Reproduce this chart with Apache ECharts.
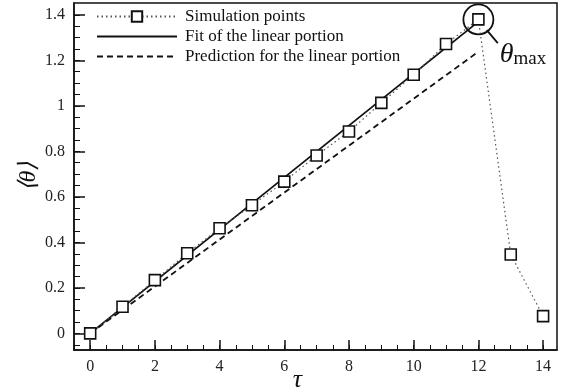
<!DOCTYPE html>
<html>
<head>
<meta charset="utf-8">
<script src="https://cdn.jsdelivr.net/npm/echarts@6/dist/echarts.min.js"></script>
<style>
  html, body { margin: 0; padding: 0; background: #fff; }
  #chart { width: 567px; height: 392px; }
</style>
</head>
<body>
<div id="chart"></div>
<script>
// simulation points
const tau = [0, 1, 2, 3, 4, 5, 6, 7, 8, 9, 10, 11, 12, 13, 14]
const simTheta = [0, 0.117, 0.234, 0.352, 0.462, 0.563, 0.667, 0.782, 0.887, 1.013, 1.137, 1.272, 1.38, 0.347, 0.076]

// linear fit and prediction (end points)
const fitTau = [0, 12]
const fitTheta = [0, 1.37]
const predTau = [0, 12]
const predTheta = [0, 1.238]

// axis ticks
const xMajor = [0, 2, 4, 6, 8, 10, 12, 14]
const xMinor = [-0.5, 0, 0.5, 1, 1.5, 2, 2.5, 3, 3.5, 4, 4.5, 5, 5.5, 6, 6.5, 7, 7.5, 8, 8.5, 9, 9.5, 10, 10.5, 11, 11.5, 12, 12.5, 13, 13.5, 14]
const yMajor = [0, 0.2, 0.4, 0.6, 0.8, 1, 1.2, 1.4]
const yMinor = [-0.05, 0, 0.05, 0.1, 0.15, 0.2, 0.25, 0.3, 0.35, 0.4, 0.45, 0.5, 0.55, 0.6, 0.65, 0.7, 0.75, 0.8, 0.85, 0.9, 0.95, 1, 1.05, 1.1, 1.15, 1.2, 1.25, 1.3, 1.35, 1.4]

// annotation for the maximum
const maxIdx = 12
const leaderFrom = [12.26, 1.333]
const leaderTo = [12.6, 1.276]
const labelAt = [12.66, 1.226]

const serif = 'Liberation Serif'
const X_MIN = -0.5
const X_MAX = 14.43
const Y_MIN = -0.073
const Y_MAX = 1.452

const zip = (a, b) => a.map((v, i) => [v, b[i]])

const chart = echarts.init(document.getElementById('chart'), null, { renderer: 'canvas' })

const baseAxis = {
	type: 'value',
	splitLine: { show: false },
	axisLine: { onZero: false },
}

// line-only legend icons (no marker dot)
const noMarker = { color: 'rgba(0,0,0,0)', borderWidth: 0, opacity: 0 }

const option = {
	animation: false,
	backgroundColor: '#fff',
	textStyle: { fontFamily: serif },
	grid: {
		left: 74,
		right: 10,
		top: 3,
		bottom: 42,
		outerBoundsMode: 'none',
		show: true,
		borderColor: '#111',
		borderWidth: 1.5,
		backgroundColor: 'transparent',
	},
	legend: {
		orient: 'vertical',
		left: 96,
		top: 8,
		padding: 0,
		itemWidth: 80,
		itemHeight: 13,
		itemGap: 3,
		textStyle: {
			fontFamily: serif,
			fontSize: 17,
			lineHeight: 14,
			color: '#111',
			padding: [0, 0, 0, 3],
		},
		data: [
			'Simulation points',
			{ name: 'Fit of the linear portion', itemStyle: noMarker },
			{ name: 'Prediction for the linear portion', itemStyle: noMarker },
		],
	},
	xAxis: [
		{
			...baseAxis,
			position: 'bottom',
			min: X_MIN,
			max: X_MAX,
			name: 'τ',
			nameLocation: 'middle',
			nameMoveOverlap: false,
			nameGap: 17,
			nameTextStyle: {
				fontFamily: serif,
				fontStyle: 'italic',
				fontSize: 26,
				color: '#111',
				padding: [0, 36, 0, 0],
			},
			axisLine: { onZero: false, lineStyle: { color: '#111', width: 1.5 } },
			axisTick: {
				inside: true,
				length: 10,
				customValues: xMajor,
				lineStyle: { color: '#111', width: 1.5 },
			},
			axisLabel: {
				customValues: xMajor,
				fontFamily: serif,
				fontSize: 16,
				color: '#222',
				margin: 9,
			},
		},
		{
			...baseAxis,
			position: 'bottom',
			min: X_MIN,
			max: X_MAX,
			axisLine: { show: false, onZero: false },
			axisLabel: { show: false },
			axisTick: {
				inside: true,
				length: 5,
				customValues: xMinor,
				lineStyle: { color: '#111', width: 1 },
			},
		},
	],
	yAxis: [
		{
			...baseAxis,
			position: 'left',
			min: Y_MIN,
			max: Y_MAX,
			name: '⟨θ⟩',
			nameLocation: 'middle',
			nameMoveOverlap: false,
			nameGap: 33,
			nameTextStyle: {
				fontFamily: serif,
				fontStyle: 'italic',
				fontSize: 24,
				color: '#111',
			},
			axisLine: { onZero: false, lineStyle: { color: '#111', width: 1.5 } },
			axisTick: {
				inside: true,
				length: 11,
				customValues: yMajor,
				lineStyle: { color: '#111', width: 1.5 },
			},
			axisLabel: {
				customValues: yMajor,
				fontFamily: serif,
				fontSize: 16,
				color: '#222',
				margin: 9,
			},
		},
		{
			...baseAxis,
			position: 'left',
			min: Y_MIN,
			max: Y_MAX,
			axisLine: { show: false, onZero: false },
			axisLabel: { show: false },
			axisTick: {
				inside: true,
				length: 6,
				customValues: yMinor,
				lineStyle: { color: '#111', width: 1 },
			},
		},
	],
	series: [
		{
			name: 'Fit of the linear portion',
			type: 'line',
			data: zip(fitTau, fitTheta),
			showSymbol: false,
			symbol: 'none',
			lineStyle: { color: '#111', width: 1.8, type: 'solid' },
			itemStyle: { color: '#111' },
			z: 2,
		},
		{
			name: 'Prediction for the linear portion',
			type: 'line',
			data: zip(predTau, predTheta),
			showSymbol: false,
			symbol: 'none',
			lineStyle: { color: '#111', width: 1.8, type: [6, 4] },
			itemStyle: { color: '#111' },
			z: 2,
		},
		{
			name: 'Simulation points',
			type: 'line',
			data: zip(tau, simTheta),
			symbol: 'rect',
			symbolSize: 11,
			lineStyle: { color: '#555', width: 1.2, type: [1.5, 3] },
			itemStyle: { color: '#fff', borderColor: '#111', borderWidth: 1.6 },
			z: 5,
			markPoint: {
				silent: true,
				data: [
					{
						coord: [tau[maxIdx], simTheta[maxIdx]],
						symbol: 'circle',
						symbolSize: 30,
						itemStyle: { color: 'rgba(0,0,0,0)', borderColor: '#111', borderWidth: 1.8 },
						label: { show: false },
					},
					{
						coord: labelAt,
						symbol: 'circle',
						symbolSize: 0,
						label: {
							show: true,
							position: 'right',
							distance: 0,
							formatter: '{a|θ}{b|max}',
							rich: {
								a: { fontFamily: serif, fontStyle: 'italic', fontSize: 28, color: '#111', verticalAlign: 'bottom', lineHeight: 28 },
								b: { fontFamily: serif, fontSize: 19, color: '#111', verticalAlign: 'bottom', lineHeight: 22 },
							},
						},
					},
				],
			},
			markLine: {
				silent: true,
				symbol: 'none',
				label: { show: false },
				lineStyle: { color: '#111', width: 1.8, type: 'solid' },
				data: [[{ coord: leaderFrom }, { coord: leaderTo }]],
			},
		},
	],
}

chart.setOption(option)
</script>
</body>
</html>
